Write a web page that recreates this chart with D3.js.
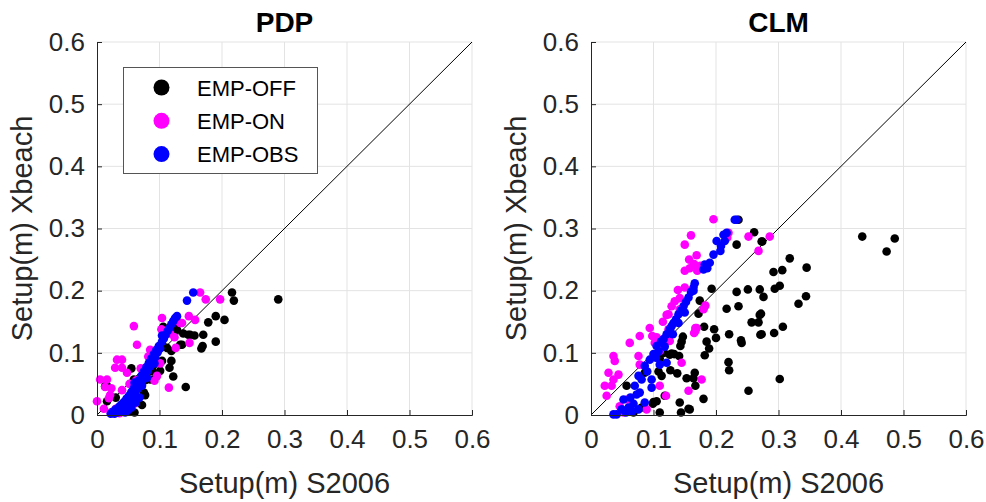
<!DOCTYPE html>
<html>
<head>
<meta charset="utf-8">
<script src="https://cdn.jsdelivr.net/npm/d3@7"></script>
<style>
  body { margin: 0; background: #fff; }
  text { font-family: "Liberation Sans", Arial, sans-serif; fill: #262626; }
</style>
</head>
<body>
<svg id="chart" width="986" height="502"></svg>
<script>
// values, [S2006, Xbeach] in metres
const ticks = [0, 0.1, 0.2, 0.3, 0.4, 0.5, 0.6];
const seriesNames = ['EMP-OFF', 'EMP-ON', 'EMP-OBS'];
const seriesColors = ['#000000', '#ff00ff', '#0000ff'];

const pdpOff = [
  [0.290,0.186],[0.216,0.197],[0.219,0.184],[0.204,0.153],[0.190,0.159],[0.178,0.149],
  [0.190,0.118],[0.170,0.129],[0.169,0.111],[0.167,0.107],[0.156,0.128],[0.149,0.129],
  [0.138,0.131],[0.146,0.129],[0.136,0.113],[0.142,0.045],[0.119,0.087],[0.119,0.103],
  [0.116,0.076],[0.122,0.062],[0.104,0.087],[0.106,0.110],[0.101,0.071],[0.090,0.080],
  [0.095,0.062],[0.088,0.071],[0.077,0.056],[0.077,0.032],[0.072,0.016],[0.075,0.036],
  [0.051,0.006],[0.055,0.075],[0.016,0.047],[0.016,0.022],[0.013,0.046],[0.128,0.137],
  [0.133,0.113],[0.112,0.108],[0.096,0.100],[0.069,0.047],[0.085,0.057],[0.059,0.057],
  [0.127,0.145],[0.106,0.142],[0.060,0.004],[0.045,0.010],[0.030,0.028]
];
const pdpOn = [
  [0.059,0.143],[0.064,0.113],[0.032,0.089],[0.040,0.089],[0.029,0.076],[0.040,0.076],
  [0.005,0.057],[0.016,0.057],[0.013,0.045],[0.023,0.043],[0.021,0.032],[0.019,0.027],
  [0.000,0.022],[0.022,0.004],[0.030,0.010],[0.036,0.003],[0.061,0.019],[0.115,0.044],
  [0.104,0.156],[0.117,0.131],[0.103,0.138],[0.133,0.148],[0.147,0.159],[0.157,0.153],
  [0.136,0.148],[0.148,0.116],[0.165,0.197],[0.174,0.186],[0.197,0.186],[0.082,0.094],
  [0.070,0.075],[0.101,0.083],[0.096,0.063],[0.063,0.056],[0.048,0.068],[0.040,0.040],
  [0.052,0.050],[0.085,0.105],[0.126,0.108],[0.092,0.055],[0.124,0.125],[0.011,0.010]
];
const pdpObs = [
  [0.022,0.002],[0.025,0.005],[0.028,0.002],[0.030,0.009],[0.033,0.004],[0.035,0.013],
  [0.037,0.007],[0.039,0.017],[0.041,0.010],[0.043,0.021],[0.045,0.004],[0.046,0.015],
  [0.047,0.026],[0.049,0.019],[0.050,0.008],[0.051,0.031],[0.053,0.024],[0.055,0.012],
  [0.055,0.037],[0.057,0.029],[0.059,0.043],[0.061,0.035],[0.062,0.020],[0.063,0.049],
  [0.065,0.042],[0.067,0.056],[0.068,0.028],[0.069,0.050],[0.071,0.063],[0.073,0.056],
  [0.075,0.070],[0.077,0.064],[0.079,0.077],[0.081,0.071],[0.083,0.084],[0.085,0.078],
  [0.087,0.091],[0.089,0.086],[0.091,0.098],[0.093,0.093],[0.095,0.105],[0.097,0.101],
  [0.099,0.111],[0.101,0.107],[0.104,0.118],[0.107,0.123],[0.110,0.129],[0.113,0.135],
  [0.116,0.140],[0.119,0.146],[0.122,0.151],[0.125,0.156],[0.128,0.159],[0.144,0.184],
  [0.154,0.197],[0.080,0.060],[0.072,0.047],[0.092,0.083],[0.060,0.052],[0.104,0.128]
];

const clmOff = [
  [0.236,0.314],[0.261,0.294],[0.233,0.274],[0.273,0.279],[0.318,0.252],[0.292,0.230],
  [0.306,0.233],[0.294,0.203],[0.302,0.208],[0.270,0.202],[0.276,0.190],[0.251,0.202],
  [0.233,0.198],[0.332,0.179],[0.344,0.191],[0.345,0.237],[0.236,0.175],[0.217,0.171],
  [0.193,0.203],[0.174,0.184],[0.172,0.163],[0.257,0.149],[0.268,0.149],[0.270,0.161],
  [0.307,0.142],[0.293,0.132],[0.271,0.129],[0.240,0.120],[0.241,0.116],[0.221,0.130],
  [0.200,0.124],[0.197,0.138],[0.181,0.142],[0.185,0.118],[0.189,0.107],[0.182,0.096],
  [0.145,0.118],[0.147,0.126],[0.143,0.111],[0.141,0.095],[0.133,0.098],[0.126,0.097],
  [0.117,0.100],[0.220,0.085],[0.221,0.072],[0.166,0.068],[0.164,0.059],[0.138,0.067],
  [0.167,0.047],[0.180,0.026],[0.156,0.010],[0.142,0.020],[0.144,0.004],[0.158,0.009],
  [0.252,0.039],[0.302,0.058],[0.118,0.031],[0.105,0.022],[0.099,0.018],[0.081,0.012],
  [0.110,0.004],[0.068,0.004],[0.057,0.047],[0.086,0.068],[0.113,0.063],[0.127,0.072],
  [0.434,0.287],[0.486,0.284],[0.473,0.263],[0.274,0.279],[0.129,0.099],[0.110,0.091],
  [0.108,0.070],[0.100,0.021],[0.153,0.059],[0.272,0.163],[0.273,0.130]
];
const clmOn = [
  [0.196,0.315],[0.160,0.289],[0.150,0.274],[0.220,0.293],[0.218,0.285],[0.252,0.287],
  [0.286,0.287],[0.268,0.264],[0.169,0.257],[0.157,0.250],[0.165,0.243],[0.158,0.236],
  [0.150,0.232],[0.170,0.232],[0.175,0.240],[0.139,0.201],[0.150,0.205],[0.142,0.188],
  [0.134,0.183],[0.129,0.175],[0.142,0.170],[0.180,0.170],[0.183,0.176],[0.124,0.162],
  [0.121,0.161],[0.167,0.140],[0.165,0.132],[0.094,0.140],[0.078,0.127],[0.098,0.127],
  [0.062,0.116],[0.102,0.116],[0.110,0.103],[0.036,0.095],[0.038,0.087],[0.076,0.095],
  [0.078,0.081],[0.028,0.068],[0.044,0.065],[0.022,0.047],[0.033,0.047],[0.036,0.057],
  [0.025,0.031],[0.145,0.084],[0.177,0.057],[0.156,0.039],[0.110,0.047],[0.089,0.009],
  [0.052,0.004],[0.046,0.014],[0.124,0.138],[0.126,0.119],[0.167,0.135],[0.169,0.140],
  [0.115,0.150],[0.105,0.125],[0.058,0.025],[0.120,0.031]
];
const clmObs = [
  [0.036,0.001],[0.041,0.001],[0.049,0.009],[0.052,0.025],[0.056,0.004],[0.060,0.012],
  [0.063,0.028],[0.066,0.006],[0.068,0.018],[0.070,0.047],[0.073,0.033],[0.076,0.063],
  [0.076,0.009],[0.078,0.036],[0.081,0.057],[0.086,0.020],[0.086,0.079],[0.090,0.070],
  [0.094,0.089],[0.097,0.057],[0.097,0.044],[0.100,0.098],[0.105,0.111],[0.108,0.102],
  [0.110,0.081],[0.112,0.118],[0.116,0.122],[0.121,0.084],[0.121,0.130],[0.126,0.138],
  [0.129,0.143],[0.132,0.148],[0.136,0.154],[0.140,0.162],[0.144,0.168],[0.148,0.175],
  [0.152,0.182],[0.156,0.189],[0.160,0.198],[0.164,0.205],[0.166,0.212],[0.164,0.200],
  [0.180,0.234],[0.182,0.242],[0.186,0.236],[0.190,0.245],[0.196,0.258],[0.207,0.264],
  [0.201,0.280],[0.212,0.290],[0.214,0.280],[0.217,0.293],[0.208,0.272],[0.233,0.314],
  [0.230,0.314],[0.131,0.130],[0.140,0.148],[0.118,0.110],[0.150,0.165],[0.104,0.092]
];

const panels = [
  {title: 'PDP', left: 97, series: [pdpOff, pdpOn, pdpObs], legend: true},
  {title: 'CLM', left: 591, series: [clmOff, clmOn, clmObs], legend: false}
];

const svg = d3.select('#chart');
const plotTop = 42, plotW = 375, plotH = 373;
const axisColor = '#262626';

panels.forEach(p => {
  const x = d3.scaleLinear().domain([0, 0.6]).range([p.left, p.left + plotW]);
  const y = d3.scaleLinear().domain([0, 0.6]).range([plotTop + plotH, plotTop]);
  const g = svg.append('g');

  // grid
  g.selectAll('.gx').data(ticks.slice(1)).enter().append('line')
    .attr('x1', d => x(d)).attr('x2', d => x(d))
    .attr('y1', plotTop).attr('y2', plotTop + plotH)
    .attr('stroke', '#e3e3e3').attr('stroke-width', 1);
  g.selectAll('.gy').data(ticks.slice(1)).enter().append('line')
    .attr('x1', p.left).attr('x2', p.left + plotW)
    .attr('y1', d => y(d)).attr('y2', d => y(d))
    .attr('stroke', '#e3e3e3').attr('stroke-width', 1);

  // 1:1 line
  g.append('line')
    .attr('x1', x(0)).attr('y1', y(0)).attr('x2', x(0.6)).attr('y2', y(0.6))
    .attr('stroke', '#000').attr('stroke-width', 1);

  // points
  p.series.forEach((s, i) => {
    g.selectAll('.s' + i).data(s).enter().append('circle')
      .attr('cx', d => x(d[0])).attr('cy', d => y(d[1]))
      .attr('r', 4.3).attr('fill', seriesColors[i]);
  });

  // axes
  const xAxis = d3.axisBottom(x).tickValues(ticks).tickSize(-5).tickPadding(15)
    .tickFormat(d3.format('~g'));
  const yAxis = d3.axisLeft(y).tickValues(ticks).tickSize(-5).tickPadding(12)
    .tickFormat(d3.format('~g'));
  const gx = g.append('g').attr('transform', `translate(0,${plotTop + plotH})`).call(xAxis);
  const gy = g.append('g').attr('transform', `translate(${p.left},0)`).call(yAxis);
  [gx, gy].forEach(a => {
    a.select('.domain').attr('stroke', axisColor);
    a.selectAll('.tick line').attr('stroke', axisColor);
    a.selectAll('.tick text').attr('font-size', 26)
      .attr('font-family', '"Liberation Sans", Arial, sans-serif').attr('fill', axisColor);
  });

  g.append('text').attr('x', p.left + plotW / 2).attr('y', 32)
    .attr('text-anchor', 'middle').attr('font-size', 28).attr('font-weight', 'bold')
    .style('fill', '#000').text(p.title);
  g.append('text').attr('x', p.left + plotW / 2).attr('y', 493)
    .attr('text-anchor', 'middle').attr('font-size', 29).text('Setup(m) S2006');
  g.append('text')
    .attr('transform', `translate(${p.left - 65},${plotTop + plotH / 2}) rotate(-90)`)
    .attr('text-anchor', 'middle').attr('font-size', 29).text('Setup(m) Xbeach');

  if (p.legend) {
    const lg = g.append('g');
    lg.append('rect').attr('x', 123.5).attr('y', 67.5).attr('width', 194).attr('height', 106)
      .attr('fill', '#fff').attr('stroke', '#555').attr('stroke-width', 1);
    seriesNames.forEach((n, i) => {
      const cy = 87.5 + i * 33.3;
      lg.append('circle').attr('cx', 161.5).attr('cy', cy).attr('r', 8)
        .attr('fill', seriesColors[i]);
      lg.append('text').attr('x', 197).attr('y', cy + 8).attr('font-size', 22)
        .style('fill', '#000').text(n);
    });
  }
});
</script>
</body>
</html>
